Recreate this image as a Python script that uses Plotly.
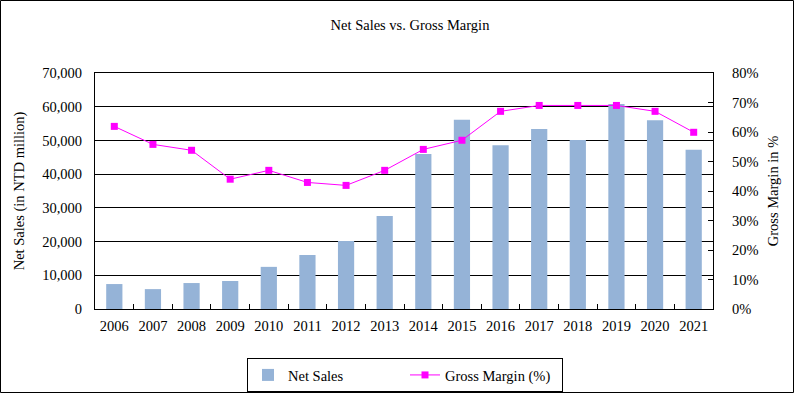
import plotly.graph_objects as go

years = ["2006", "2007", "2008", "2009", "2010", "2011", "2012", "2013",
         "2014", "2015", "2016", "2017", "2018", "2019", "2020", "2021"]
net_sales = [7400, 5900, 7700, 8300, 12500, 16000, 20200, 27600,
             46000, 56100, 48600, 53400, 50100, 60800, 56000, 47200]
gross_margin = [61.9, 55.8, 53.8, 44.0, 47.0, 42.9, 41.9, 47.0,
                54.1, 57.2, 67.0, 69.0, 69.0, 69.0, 67.0, 59.9]

FONT = "'Liberation Serif', 'Times New Roman', serif"
FS = 14.5

fig = go.Figure()
fig.add_trace(go.Bar(x=years, y=net_sales, name="Net Sales",
                     marker=dict(color="#95B3D7", line=dict(width=0)),
                     yaxis="y"))
fig.add_trace(go.Scatter(x=years, y=gross_margin, name="Gross Margin (%)",
                         mode="lines+markers",
                         line=dict(color="#FF00FF", width=1),
                         marker=dict(symbol="square", size=7, color="#FF00FF"),
                         yaxis="y2"))

W, H = 794, 393
L, R, T, B = 95, 81, 73, 84
pw, ph = W - L - R, H - T - B

fig.update_layout(
    width=W, height=H,
    margin=dict(l=L, r=R, t=T, b=B, autoexpand=False),
    paper_bgcolor="white", plot_bgcolor="white",
    font=dict(family=FONT, size=FS, color="black"),
    title=dict(text="Net Sales vs. Gross Margin", x=410 / W, xanchor="center",
               y=1 - 25 / H, yanchor="middle", font=dict(family=FONT, size=FS)),
    bargap=0.58,
    showlegend=True,
    legend=dict(orientation="h", x=405 / W, xref="container", xanchor="center",
                y=1 - 358 / H, yref="container", yanchor="top",
                bordercolor="black", borderwidth=1, bgcolor="white",
                font=dict(family=FONT, size=FS), entrywidth=112,
                traceorder="normal", itemwidth=30),
    xaxis=dict(type="category", range=[-0.5, len(years) - 0.5],
               showline=True, linecolor="black", linewidth=1,
               mirror=True, ticks="inside", ticklen=5, tickcolor="black",
               tickson="boundaries", showgrid=False, automargin=False,
               tickangle=0, ticklabelstandoff=4,
               tickfont=dict(family=FONT, size=FS)),
    yaxis=dict(range=[0, 70000], dtick=10000, tickformat=",",
               showgrid=True, gridcolor="black", gridwidth=1,
               showline=True, linecolor="black", linewidth=1,
               ticks="", zeroline=False, automargin=False,
               ticklabelstandoff=9,
               title=dict(text="Net Sales (in NTD million)", standoff=14,
                          font=dict(family=FONT, size=FS)),
               tickfont=dict(family=FONT, size=FS)),
    yaxis2=dict(range=[0, 80], dtick=10, ticksuffix="%", overlaying="y",
                side="right", showgrid=False, showline=True,
                linecolor="black", linewidth=1, ticks="inside", ticklen=5,
                tickcolor="black", zeroline=False, automargin=False,
                ticklabelstandoff=15,
                title=dict(text="Gross Margin in %", standoff=10,
                           font=dict(family=FONT, size=FS)),
                tickfont=dict(family=FONT, size=FS)),
)

# outer border of the whole chart
fig.add_shape(type="rect", xref="paper", yref="paper",
              x0=(0.5 - L) / pw, x1=(W - 0.5 - L) / pw,
              y0=(T + ph - (H - 0.5)) / ph, y1=(T + ph - 0.5) / ph,
              line=dict(color="black", width=1), fillcolor="rgba(0,0,0,0)",
              layer="above")

fig.write_html("out.html", config={"displayModeBar": False},
               post_script="document.body.style.margin='0';document.body.style.padding='0';")
